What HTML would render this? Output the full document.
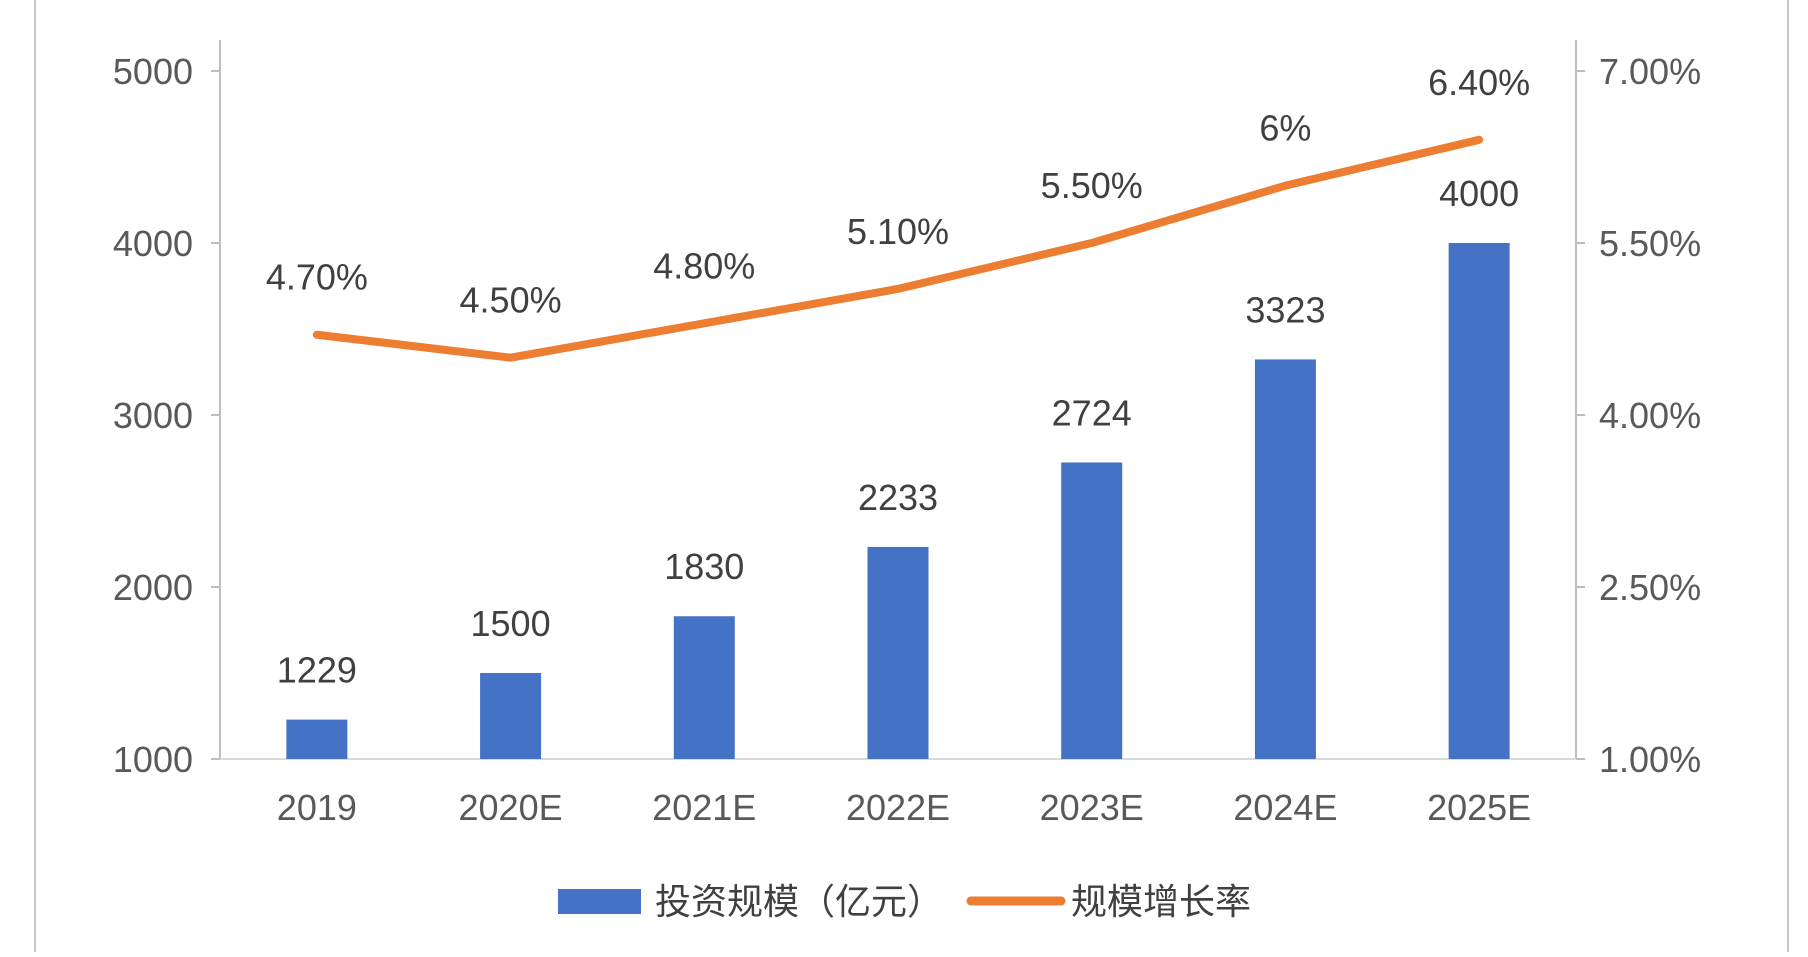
<!DOCTYPE html>
<html><head><meta charset="utf-8">
<style>
body{margin:0;background:#fff;}
svg text{font-family:"Liberation Sans","Noto Sans CJK SC",sans-serif;}
</style></head>
<body>
<svg id="chart" width="1808" height="952" viewBox="0 0 1808 952" xmlns="http://www.w3.org/2000/svg">
<line x1="35" y1="0" x2="35" y2="952" stroke="#c8c8c8" stroke-width="2"/>
<line x1="1788" y1="0" x2="1788" y2="952" stroke="#c8c8c8" stroke-width="2"/>
<g id="axes"></g>
<g id="bars"></g>
<g id="line"></g>
<g id="labels"></g>
<g>
<rect x="558" y="889" width="83" height="25" fill="#4472c4"/>
<text x="655" y="914" font-size="36" fill="#404040">投资规模（亿元）</text>
<line x1="971" y1="901" x2="1061" y2="901" stroke="#ed7d31" stroke-width="9" stroke-linecap="round"/>
<text x="1071" y="914" font-size="36" fill="#404040">规模增长率</text>
</g>
</svg>
<script>
const categories=["2019","2020E","2021E","2022E","2023E","2024E","2025E"];
const investment=[1229,1500,1830,2233,2724,3323,4000];
const growth=[4.7,4.5,4.8,5.1,5.5,6.0,6.4];
const growthLabels=["4.70%","4.50%","4.80%","5.10%","5.50%","6%","6.40%"];
const leftTicks=[1000,2000,3000,4000,5000];
const rightTicks=[1.0,2.5,4.0,5.5,7.0];
const rightTickLabels=["1.00%","2.50%","4.00%","5.50%","7.00%"];

const NS="http://www.w3.org/2000/svg";
const X0=220,X1=1576,Y0=759,Y1=71;
const band=(X1-X0)/categories.length;
const xc=i=>X0+band*(i+0.5);
const yL=v=>Y0-(v-1000)/(5000-1000)*(Y0-Y1);
const yR=v=>Y0-(v-1)/(7-1)*(Y0-Y1);
function mk(tag,attrs,parent,txt){const e=document.createElementNS(NS,tag);for(const k in attrs)e.setAttribute(k,attrs[k]);if(txt!==undefined)e.textContent=txt;document.getElementById(parent).appendChild(e);return e;}

let e;
e=mk('line',{x1:X0,y1:40,x2:X0,y2:Y0,stroke:'#bfbfbf','stroke-width':2},'axes');


e=mk('line',{x1:X1,y1:40,x2:X1,y2:Y0,stroke:'#bfbfbf','stroke-width':2},'axes');


e=mk('line',{x1:X0,y1:Y0,x2:X1,y2:Y0,stroke:'#d9d9d9','stroke-width':2},'axes');


leftTicks.forEach(v=>{
  e=mk('line',{x1:X0-9,y1:yL(v),x2:X0,y2:yL(v),stroke:'#bfbfbf','stroke-width':2},'axes');
  
  
  e=mk('text',{x:193,y:yL(v)+13,'font-size':36,fill:'#595959','text-anchor':'end'},'axes',String(v));
  
  
});
rightTicks.forEach((v,i)=>{
  e=mk('line',{x1:X1,y1:yR(v),x2:X1+9,y2:yR(v),stroke:'#bfbfbf','stroke-width':2},'axes');
  
  
  e=mk('text',{x:1599,y:yR(v)+13,'font-size':36,fill:'#595959'},'axes',rightTickLabels[i]);
  
  
});
categories.forEach((c,i)=>{
  e=mk('text',{x:xc(i),y:820,'font-size':36,fill:'#595959','text-anchor':'middle'},'axes',c);
  
  
});
const bw=61;
investment.forEach((v,i)=>{
  e=mk('rect',{x:xc(i)-bw/2,y:yL(v),width:bw,height:Y0-yL(v),fill:'#4472c4'},'bars');
  
  
  e=mk('text',{x:xc(i),y:yL(v)-37,'font-size':36,fill:'#404040','text-anchor':'middle'},'labels',String(v));
  
  
});
const pts=growth.map((v,i)=>xc(i)+','+yR(v)).join(' ');
e=mk('polyline',{points:pts,fill:'none',stroke:'#ed7d31','stroke-width':8,'stroke-linejoin':'round','stroke-linecap':'round'},'line');


growth.forEach((v,i)=>{
  e=mk('text',{x:xc(i),y:yR(v)-45,'font-size':36,fill:'#404040','text-anchor':'middle'},'labels',growthLabels[i]);
  
  
});
</script>
</body></html>
